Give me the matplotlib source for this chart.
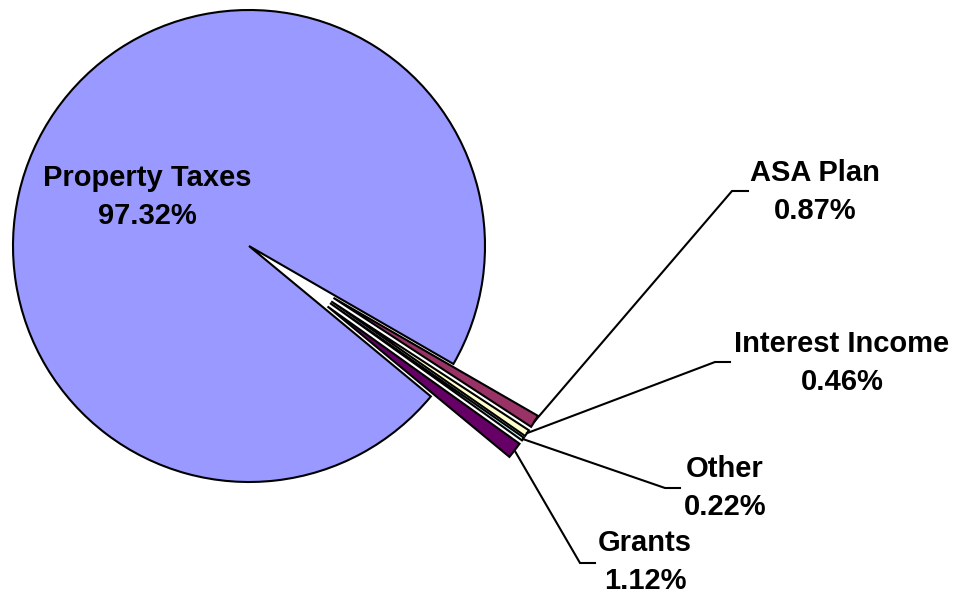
import numpy as np
import matplotlib
matplotlib.use("Agg")
import matplotlib.pyplot as plt

# Revenue sources (percent of total)
categories = ["Property Taxes", "ASA Plan", "Interest Income", "Other", "Grants"]
shares = [97.32, 0.87, 0.46, 0.22, 1.12]
share_labels = ["97.32%", "0.87%", "0.46%", "0.22%", "1.12%"]
colors = ["#9999FF", "#993366", "#FFFFCC", "#CCFFFF", "#660066"]
explode_frac = [0.0, 0.42, 0.42, 0.42, 0.42]

W, H = 960, 595
fig = plt.figure(figsize=(W / 100, H / 100), dpi=100)
ax = fig.add_axes([0, 0, 1, 1])

center = (249, 349)
radius = 236
# pie() takes the explode offset in data units, so scale by the radius
explode = [f * radius for f in explode_frac]
wedges, _ = ax.pie(shares, colors=colors, explode=explode, startangle=-39.6,
                   counterclock=False, center=center, radius=radius,
                   wedgeprops=dict(edgecolor="black", linewidth=1.5),
                   frame=True)
ax.set_xlim(0, W)
ax.set_ylim(0, H)
ax.axis("off")

font = dict(family=["Liberation Sans", "DejaVu Sans"], fontsize=21,
            fontweight="bold", color="black", ha="center", va="center",
            linespacing=1.45)

# Label for the main slice sits inside it
ax.text(147, 595 - 197, f"{categories[0]}\n{share_labels[0]}", **font)

# Leader-line elbows and label centres for the small slices
elbows = [(732, 191, 748), (715, 362, 730), (665, 488, 680), (580, 563, 595)]
label_pos = [(815, 192), (842, 363), (725, 488), (645, 562)]

for w, lab, pct, (ex, ey, hx), (lx, ly) in zip(wedges[1:], categories[1:],
                                                 share_labels[1:], elbows, label_pos):
    mid = np.deg2rad((w.theta1 + w.theta2) / 2)
    cx, cy = w.center
    sx = cx + w.r * np.cos(mid)
    sy = cy + w.r * np.sin(mid)
    ax.plot([sx, ex, hx], [sy, 595 - ey, 595 - ey], color="black", lw=1.5,
            solid_joinstyle="miter")
    ax.text(lx, 595 - ly, f"{lab}\n{pct}", **font)

fig.savefig("out.png", dpi=100)
